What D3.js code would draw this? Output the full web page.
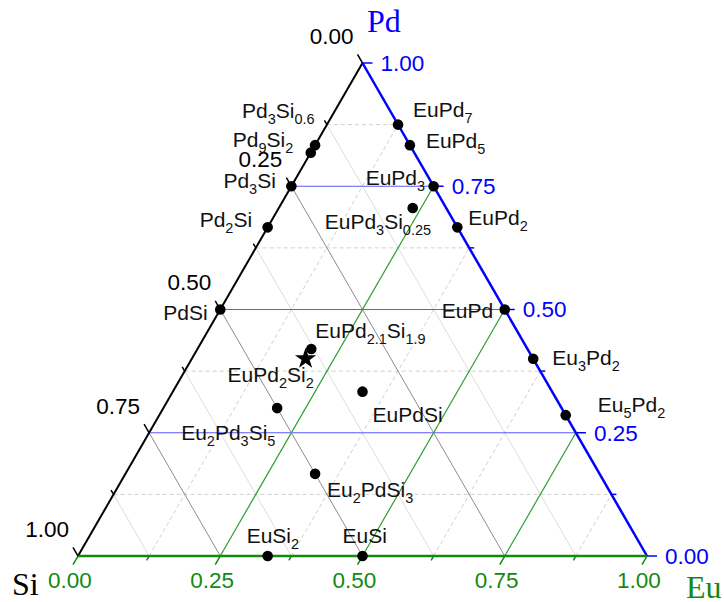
<!DOCTYPE html>
<html>
  <head>
    <meta charset="utf-8">
    <title>Eu-Pd-Si ternary</title>
    <script src="https://cdn.jsdelivr.net/npm/d3@7"></script>
    <style>
      body { margin: 0; background: #fff; }
      svg { display: block; }
      text { font-family: "Liberation Sans", Arial, sans-serif; }
      .corner { font-family: "Liberation Serif", "Times New Roman", serif; font-size: 32px; }
      .tickLabel { font-size: 22.5px; }
      .compound { font-size: 21px; fill: #111; }
      .sub { font-size: 14.5px; }
    </style>
  </head>

  <body>
    <svg id="chart" width="724" height="602">
      <g id="gridGroup"></g>
      <g id="axisGroup"></g>
      <g id="pointGroup"></g>
      <g id="labelGroup"></g>
    </svg>

    <script>
      // compounds: atom counts of Eu, Pd, Si
      const compounds = ["EuPd7", "EuPd5", "EuPd3", "EuPd3Si0.25", "EuPd2", "EuPd", "Eu3Pd2", "Eu5Pd2",
        "Pd3Si0.6", "Pd9Si2", "Pd3Si", "Pd2Si", "PdSi", "EuPd2.1Si1.9", "EuPd2Si2", "EuPdSi",
        "Eu2Pd3Si5", "Eu2PdSi3", "EuSi2", "EuSi"];
      const euCount = [1, 1, 1, 1, 1, 1, 3, 5, 0, 0, 0, 0, 0, 1, 1, 1, 2, 2, 1, 1];
      const pdCount = [7, 5, 3, 3, 2, 1, 2, 2, 3, 9, 3, 2, 1, 2.1, 2, 1, 3, 1, 0, 0];
      const siCount = [0, 0, 0, 0.25, 0, 0, 0, 0, 0.6, 2, 1, 1, 1, 1.9, 2, 1, 5, 3, 2, 1];
      const starCompound = "EuPd2Si2";

      // axis ticks
      const majorTicks = [0, 0.25, 0.5, 0.75, 1];
      const minorTicks = [0.125, 0.375, 0.625, 0.875];

      // label placement (text start / baseline relative to the point)
      const labelDx = [15, 16, -68, -88, 11, -63, 19, 32, -73, -78, -68, -68, -57, 4, -78, 10, -96, 12, -21, -20];
      const labelDy = [-8, 3, -1, 21, -2, 8, 6, -3, -27, -6, 2, 0, 10, -11, 23, 30, 32, 23, -13, -13];

      // page elements
      const chart = d3.select("#chart");
      const gridGroup = d3.select("#gridGroup");
      const axisGroup = d3.select("#axisGroup");
      const pointGroup = d3.select("#pointGroup");
      const labelGroup = d3.select("#labelGroup");

      const blue = "#0000ff";
      const green = "#118a11";

      // scales: x along the Eu base, y by Pd height
      const x = d3.scaleLinear().domain([0, 1]).range([78, 647]);
      const y = d3.scaleLinear().domain([0, 1]).range([556, 63]);
      function pt(pd, eu) {
        return [x(eu + pd / 2), y(pd)];
      }
      const fmt = d3.format(".2f");

      function seg(g, a, b, stroke, width, dash) {
        g.append("line")
          .attr("x1", a[0]).attr("y1", a[1])
          .attr("x2", b[0]).attr("y2", b[1])
          .attr("stroke", stroke)
          .attr("stroke-width", width)
          .attr("stroke-dasharray", dash || null);
      }

      // minor grid
      minorTicks.forEach(function(t) {
        seg(gridGroup, pt(1 - t, 0), pt(0, 1 - t), "#dcdcdc", 1);             // Si
        seg(gridGroup, pt(t, 0), pt(t, 1 - t), "#d0d0d0", 1, "4,3");          // Pd
        seg(gridGroup, pt(0, t), pt(1 - t, t), "#d0d0d0", 1, "4,3");          // Eu
      });

      // major grid
      majorTicks.slice(1, 4).forEach(function(t) {
        seg(gridGroup, pt(1 - t, 0), pt(0, 1 - t), "#8c8c8c", 1);
        seg(gridGroup, pt(t, 0), pt(t, 1 - t), "#5a5aff", 1.2);
        seg(gridGroup, pt(0, t), pt(1 - t, t), "#2e9e2e", 1.2);
      });

      // axis lines
      seg(axisGroup, pt(1, 0), pt(0, 0), "#000", 2);
      seg(axisGroup, pt(1, 0), pt(0, 1), blue, 2.5);
      seg(axisGroup, pt(0, 0), pt(0, 1), green, 2.5);

      // ticks
      function ticks(values, len) {
        values.forEach(function(t) {
          let a = pt(1 - t, 0);  // Si axis
          seg(axisGroup, a, [a[0] - 0.5 * len, a[1] - 0.866 * len], "#000", 1.5);
          a = pt(t, 1 - t);      // Pd axis
          seg(axisGroup, a, [a[0] + len, a[1]], blue, 1.5);
          a = pt(0, t);          // Eu axis
          seg(axisGroup, a, [a[0] - 0.5 * len, a[1] + 0.866 * len], green, 1.5);
        });
      }
      ticks(majorTicks, 10);
      ticks(minorTicks, 5);

      // tick labels
      majorTicks.forEach(function(t) {
        let a = pt(1 - t, 0);
        axisGroup.append("text").attr("class", "tickLabel")
          .attr("x", a[0] - 9).attr("y", a[1] - 27).attr("dy", "0.35em")
          .attr("text-anchor", "end").attr("fill", "#000").text(fmt(t));
        a = pt(t, 1 - t);
        axisGroup.append("text").attr("class", "tickLabel")
          .attr("x", a[0] + 18).attr("y", a[1]).attr("dy", "0.35em")
          .attr("fill", blue).text(fmt(t));
        a = pt(0, t);
        axisGroup.append("text").attr("class", "tickLabel")
          .attr("x", a[0] - 8).attr("y", a[1] + 24).attr("dy", "0.35em")
          .attr("text-anchor", "middle").attr("fill", green).text(fmt(t));
      });

      // corner titles
      chart.append("text").attr("class", "corner").attr("x", 367).attr("y", 32).attr("fill", blue).text("Pd");
      chart.append("text").attr("class", "corner").attr("x", 12).attr("y", 595).attr("fill", "#000").text("Si");
      chart.append("text").attr("class", "corner").attr("x", 686).attr("y", 598).attr("fill", green).text("Eu");

      // points
      const points = compounds.map(function(name, i) {
        const total = euCount[i] + pdCount[i] + siCount[i];
        const p = pt(pdCount[i] / total, euCount[i] / total);
        return { name: name, px: p[0], py: p[1], dx: labelDx[i], dy: labelDy[i] };
      });

      pointGroup.selectAll("circle")
        .data(points.filter(function(d) { return d.name !== starCompound; }))
        .enter().append("circle")
          .attr("cx", function(d) { return d.px; })
          .attr("cy", function(d) { return d.py; })
          .attr("r", 5.3)
          .attr("fill", "#000");

      pointGroup.selectAll("path")
        .data(points.filter(function(d) { return d.name === starCompound; }))
        .enter().append("path")
          .attr("d", d3.symbol().type(d3.symbolStar).size(140))
          .attr("transform", function(d) { return "translate(" + d.px + "," + d.py + ")"; })
          .attr("fill", "#000");

      // labels with subscripts
      points.forEach(function(d) {
        const t = labelGroup.append("text").attr("class", "compound")
          .attr("x", d.px + d.dx).attr("y", d.py + d.dy);
        const parts = d.name.match(/[A-Z][a-z]*|[0-9.]+/g);
        let shifted = false;
        parts.forEach(function(s) {
          const isNum = /^[0-9.]/.test(s);
          const span = t.append("tspan").text(s);
          if (isNum && !shifted) {
            span.attr("class", "sub").attr("dy", 6);
            shifted = true;
          } else if (!isNum && shifted) {
            span.attr("dy", -6);
            shifted = false;
          }
        });
      });
    </script>
  </body>
</html>
